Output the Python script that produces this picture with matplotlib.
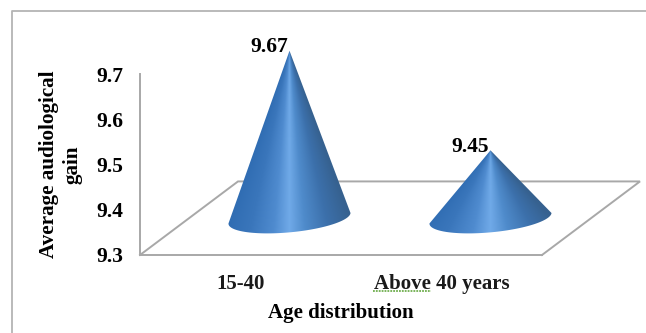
import numpy as np
import matplotlib
matplotlib.use("Agg")
import matplotlib.pyplot as plt
from matplotlib.colors import LinearSegmentedColormap
from matplotlib.lines import Line2D
from matplotlib.patches import Polygon

categories = ["15-40", "Above 40 years"]
values = [9.67, 9.45]
y_ticks = [9.3, 9.4, 9.5, 9.6, 9.7]
x_title = "Age distribution"
y_title = "Average audiological\ngain"

W, H = 646, 333
GREY = "#a8a8a8"
plt.rcParams["font.family"] = ["Liberation Serif", "DejaVu Serif"]
plt.rcParams["font.weight"] = "bold"

fig = plt.figure(figsize=(W / 100, H / 100), dpi=100, facecolor="white")
L, R, T, B = 140, 542, 74, 255
ax = fig.add_axes([L / W, 1 - B / H, (R - L) / W, (B - T) / H])
ax.set_xlim(-0.5, 1.5)
ax.set_ylim(9.3, 9.7)
ax.patch.set_alpha(0)

# Outer chart frame: only the top and left edges fall inside the canvas
fig.add_artist(Line2D([12 / W, 12 / W, 1], [0, 1 - 11 / H, 1 - 11 / H], color="#b4b4b4", lw=1.3))

for s in ("top", "right"):
    ax.spines[s].set_visible(False)
for s in ("left", "bottom"):
    ax.spines[s].set_color(GREY)
    ax.spines[s].set_linewidth(1.4)

ax.set_xticks(range(len(categories)), categories)
ax.set_yticks(y_ticks, [f"{v:.1f}" for v in y_ticks])
ax.tick_params(axis="x", length=0, pad=13.5, labelsize=15)
ax.tick_params(axis="y", length=0, pad=12, labelsize=15.5)
for t in ax.get_xticklabels():
    t.set_color("#1a1a1a")

ax.set_xlabel(x_title, fontsize=15, fontweight="bold", labelpad=7)
ax.set_ylabel(y_title, fontsize=15.2, fontweight="bold", labelpad=10, linespacing=1.22)

# Floor of the 3-D box, receding up and to the right
DEPTH_X = 0.4876
DEPTH_Y = 0.1626
x0, x1 = ax.get_xlim()
floor_x = [x0, x0 + DEPTH_X, x1 + DEPTH_X, x1]
floor_y = [9.3, 9.3 + DEPTH_Y, 9.3 + DEPTH_Y, 9.3]
ax.plot(floor_x, floor_y, color=GREY, lw=1.4, clip_on=False, zorder=1, solid_joinstyle="miter")

# Cones stand at mid-depth on the floor
cone_cmap = LinearSegmentedColormap.from_list(
    "cone",
    [(0.0, "#2f6cb2"), (0.2, "#3a76bb"), (0.38, "#4f8bcf"), (0.5, "#70aae8"),
     (0.62, "#4f8bcb"), (0.8, "#3c70ab"), (1.0, "#36618f")],
)
AX_A = np.array([0.3035, 0.0115])
AX_B = np.array([-0.006, -0.0315])
base_y_level = 9.3 + DEPTH_Y / 2

for i, v in enumerate(values):
    cx = i + DEPTH_X / 2
    tip = np.array([cx, base_y_level + (v - 9.3)])
    t = np.linspace(np.pi, 0, 80)
    rim = np.array([cx, base_y_level]) + np.outer(np.cos(t), AX_A) + np.outer(np.sin(t), AX_B)
    outline = np.vstack([tip, rim])
    patch = Polygon(outline, closed=True, facecolor="none", edgecolor="none", transform=ax.transData)
    ax.add_patch(patch)

    # Shading follows the generators of the cone, converging on the apex
    xs = np.linspace(cx - 0.32, cx + 0.32, 260)
    ys = np.linspace(base_y_level - 0.04, tip[1], 260)
    X, Y = np.meshgrid(xs, ys)
    frac = np.clip((tip[1] - Y) / (tip[1] - base_y_level), 1e-3, None)
    u = np.clip((X - cx) / (AX_A[0] * frac) * 0.5 + 0.5, 0, 1)
    im = ax.imshow(u, extent=(xs[0], xs[-1], ys[0], ys[-1]), origin="lower", cmap=cone_cmap,
                   vmin=0, vmax=1, aspect="auto", zorder=3, interpolation="bilinear")
    im.set_clip_box(fig.bbox)
    im.set_clip_path(patch)

    ax.annotate(f"{v:.2f}", xy=tip, xytext=(-14.5, 2.5), textcoords="offset points",
                ha="center", va="center", fontsize=15.5, fontweight="bold",
                annotation_clip=False, zorder=5)

ax.set_xlim(x0, x1)
ax.set_ylim(9.3, 9.7)

# Spell-check squiggle under the word "Above"
fig.add_artist(Line2D([373 / W, 431 / W], [1 - 291 / H, 1 - 291 / H], color="#6fae4e", lw=1.3, ls=(0, (1, 0.6))))

fig.savefig("out.png", dpi=100, facecolor="white")
